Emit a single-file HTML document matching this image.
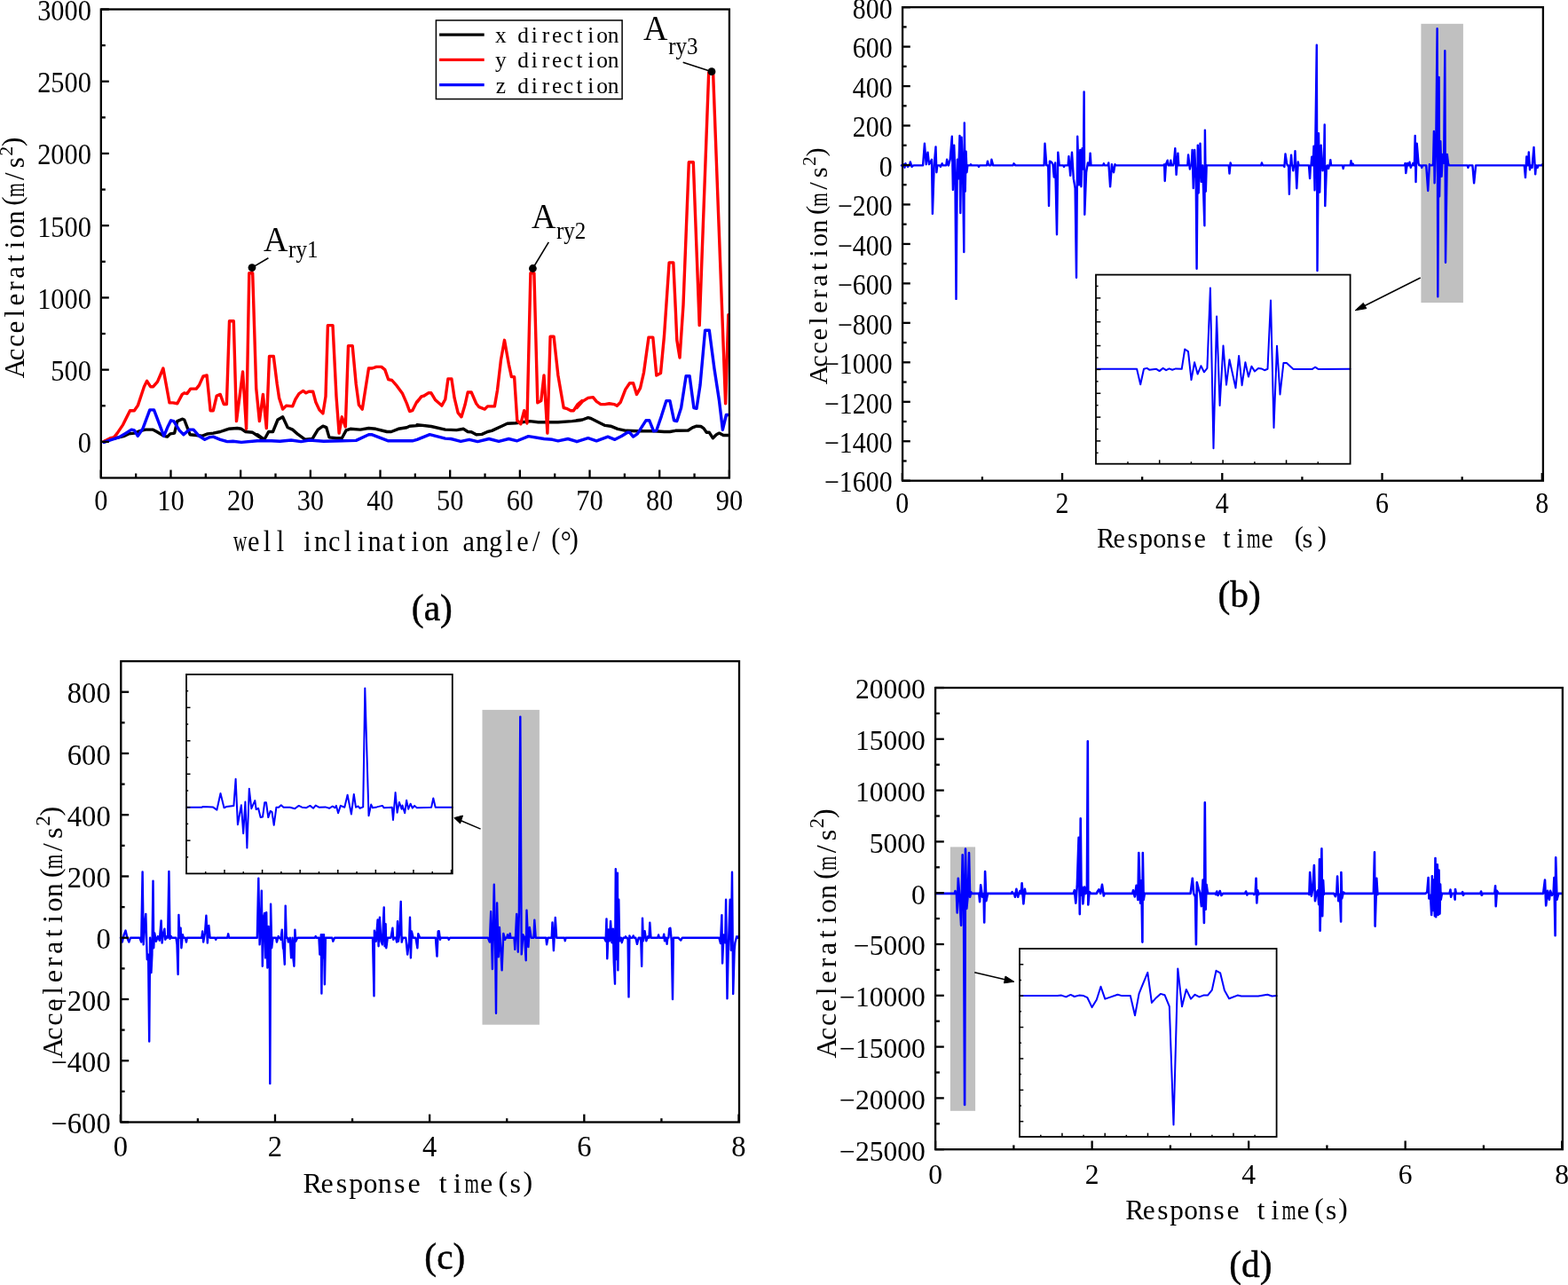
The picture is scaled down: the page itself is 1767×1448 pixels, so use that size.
<!DOCTYPE html>
<html><head><meta charset="utf-8"><title>Acceleration response figure</title>
<style>html,body{margin:0;padding:0;background:#fff;}svg{display:block;}</style>
</head><body>
<svg width="1767" height="1448" viewBox="0 0 1767 1448">
<rect width="1767" height="1448" fill="#fff"/>
<polyline points="117.1,497.6 125.9,494.5 133.8,492.9 140.2,491.3 144.9,488.9 151.3,488.1 157.7,485.7 164.0,484.1 172.0,484.1 176.7,486.5 184.7,491.3 188.6,492.1 191.8,488.9 196.6,488.1 199.8,474.6 205.3,472.2 207.7,473.0 214.1,489.7 221.2,490.5 227.6,491.3 233.9,488.9 240.3,488.1 248.2,486.5 257.7,483.3 267.3,482.5 272.0,483.3 276.8,486.5 284.7,487.3 289.5,490.5 296.7,495.3 290.0,489.7 297.9,495.3 302.7,486.5 307.5,486.5 313.0,473.0 318.6,469.8 324.2,481.7 329.7,484.1 336.1,489.7 344.0,495.3 352.0,494.5 358.3,484.1 363.9,480.2 367.8,481.7 371.0,492.9 379.0,493.7 385.3,493.7 390.1,484.9 394.8,483.3 406.0,484.1 415.5,482.5 423.4,483.3 436.1,486.5 440.9,486.5 448.9,483.3 458.4,481.7 461.6,480.2 472.7,479.4 470.0,478.6 485.9,480.5 501.8,484.1 514.5,484.6 522.4,483.3 527.2,486.5 531.2,486.8 536.7,489.7 543.1,489.4 549.4,486.5 554.2,485.4 565.3,480.2 571.7,477.3 581.2,476.7 597.1,474.6 606.6,475.7 628.9,475.7 644.7,474.6 654.3,473.5 650.0,473.8 656.4,473.0 662.7,470.7 665.9,471.5 673.8,475.4 681.8,479.4 688.1,480.2 696.1,483.4 705.6,485.3 718.3,485.8 737.4,485.8 748.5,486.5 754.9,486.5 761.2,485.3 775.5,485.0 780.3,481.8 785.0,480.2 789.8,480.5 793.0,482.6 796.2,487.3 799.3,487.3 803.3,493.7 807.3,489.7 810.5,488.1 815.2,490.5 820.8,490.5" fill="none" stroke="#000" stroke-width="3.4" stroke-linejoin="round" stroke-linecap="round"/>
<polyline points="117.1,497.6 124.3,493.7 128.3,492.9 132.2,488.1 138.6,478.6 146.5,462.7 151.3,462.7 155.3,457.1 162.4,435.7 165.6,429.3 169.6,435.7 172.7,435.7 177.5,430.1 183.9,415.0 191.0,453.9 195.0,453.9 199.8,454.7 205.3,444.4 207.7,442.8 210.9,443.6 214.8,438.1 221.2,438.1 224.4,434.1 229.1,423.8 233.1,423.0 237.1,462.7 240.3,462.7 244.2,446.0 248.2,444.4 252.2,455.5 255.4,455.5 258.5,361.8 263.3,361.8 266.5,474.6 273.6,419.0 277.6,483.3 280.8,307.8 284.7,307.8 288.7,437.3 292.4,474.6 296.4,444.4 300.3,482.5 303.5,401.5 308.3,401.5 312.2,432.5 314.6,448.4 318.6,461.1 322.6,457.1 329.7,457.9 332.9,450.0 336.9,443.6 341.6,440.4 344.8,442.8 348.0,441.2 352.7,441.2 355.9,453.2 359.9,461.9 363.9,465.9 367.0,446.8 369.4,366.6 375.0,366.6 379.0,446.8 382.1,488.1 385.3,469.8 389.3,481.0 392.5,389.6 397.2,389.6 401.2,432.5 404.4,456.3 408.3,461.1 415.5,415.0 419.5,415.0 424.2,413.4 429.8,413.4 433.8,416.6 437.7,427.7 441.7,428.5 447.3,434.9 453.6,443.6 458.4,454.7 461.6,463.5 464.7,462.7 469.5,453.2 475.1,446.8 470.0,453.2 474.8,446.8 477.9,446.0 482.7,442.8 485.9,442.8 490.7,450.8 497.8,457.1 501.8,450.0 504.9,426.9 508.9,426.9 512.1,448.4 516.1,465.1 520.0,469.8 524.0,456.3 527.2,442.0 531.2,442.0 536.7,454.7 539.9,458.7 546.3,461.1 549.4,457.9 557.4,457.9 560.5,439.7 564.5,405.5 568.5,383.3 573.3,410.3 576.4,424.6 579.6,424.6 582.8,473.8 586.8,477.8 590.7,462.7 593.9,477.0 597.9,307.8 601.9,307.8 605.8,453.9 609.8,451.6 613.0,423.0 616.9,488.1 620.1,379.3 624.1,379.3 628.9,423.0 635.2,459.5 638.4,460.3 643.2,462.7 646.3,462.7 651.1,455.5 655.9,451.6 650.0,459.5 656.4,452.4 662.7,448.4 668.3,447.6 672.2,452.4 677.0,455.6 681.8,455.6 686.5,454.8 692.1,455.6 695.3,457.2 699.3,453.2 704.8,438.9 709.6,431.7 713.6,431.7 717.5,444.4 721.5,437.3 725.5,419.8 731.0,380.1 735.8,380.1 739.8,423.0 744.5,420.6 748.5,378.5 754.1,295.9 758.8,295.9 761.2,346.7 762.8,383.3 766.0,403.1 770.0,343.6 776.3,182.7 781.3,182.7 788.2,366.6 798.7,81.6 803.6,81.6 817.6,454.8 820.8,354.7" fill="none" stroke="#f00" stroke-width="3.4" stroke-linejoin="round" stroke-linecap="round"/>
<polyline points="117.1,498.4 125.9,495.3 133.8,492.9 141.8,488.1 148.1,484.1 151.3,484.9 155.3,491.3 160.8,483.3 168.8,461.9 173.5,461.9 184.7,491.3 189.4,480.2 192.6,473.8 195.8,474.6 202.1,484.9 206.9,489.7 213.3,484.1 218.0,484.1 224.4,491.3 230.7,495.3 235.5,492.9 240.3,492.1 248.2,495.3 256.1,497.6 262.5,497.3 272.0,498.4 290.0,496.8 305.9,496.8 315.4,497.3 328.1,496.0 339.2,497.6 348.8,496.0 364.7,497.3 385.3,496.8 401.2,496.4 415.5,489.7 418.7,489.7 437.7,496.8 464.7,496.8 470.0,495.3 484.3,489.7 501.8,494.1 508.1,494.5 519.2,497.3 528.8,495.3 538.3,497.6 551.0,494.5 562.1,497.3 573.3,494.5 582.8,496.8 595.5,491.6 613.0,494.5 622.5,495.3 628.9,496.8 640.0,494.5 649.5,497.3 650.0,497.7 662.7,493.7 672.2,496.9 685.0,492.1 692.9,495.3 700.8,491.3 707.2,487.3 709.6,487.3 713.6,492.1 718.3,488.9 727.9,473.8 731.8,473.8 736.6,485.8 739.8,485.0 745.3,469.1 750.9,451.6 754.9,451.6 759.6,473.8 762.8,474.6 767.6,459.5 773.1,423.8 777.1,423.8 781.9,459.5 785.0,460.3 789.0,434.1 794.6,372.2 799.3,372.2 804.9,415.0 810.5,451.6 814.4,484.2 818.4,467.5 820.8,467.5" fill="none" stroke="#00f" stroke-width="3.4" stroke-linejoin="round" stroke-linecap="round"/>
<rect x="113.80" y="10.50" width="708.10" height="528.00" fill="none" stroke="#000" stroke-width="2.3"/>
<line x1="113.80" y1="497.88" x2="122.80" y2="497.88" stroke="#000" stroke-width="2.3" stroke-linecap="butt"/>
<text transform="translate(102.90,499.28) scale(1,1.095)" x="0" y="10.03" font-size="30.4" text-anchor="end" font-family="'Liberation Serif', 'Noto Serif CJK SC', serif">0</text>
<line x1="113.80" y1="416.65" x2="122.80" y2="416.65" stroke="#000" stroke-width="2.3" stroke-linecap="butt"/>
<text transform="translate(102.90,418.05) scale(1,1.095)" x="0" y="10.03" font-size="30.4" text-anchor="end" font-family="'Liberation Serif', 'Noto Serif CJK SC', serif">500</text>
<line x1="113.80" y1="335.42" x2="122.80" y2="335.42" stroke="#000" stroke-width="2.3" stroke-linecap="butt"/>
<text transform="translate(102.90,336.82) scale(1,1.095)" x="0" y="10.03" font-size="30.4" text-anchor="end" font-family="'Liberation Serif', 'Noto Serif CJK SC', serif">1000</text>
<line x1="113.80" y1="254.19" x2="122.80" y2="254.19" stroke="#000" stroke-width="2.3" stroke-linecap="butt"/>
<text transform="translate(102.90,255.59) scale(1,1.095)" x="0" y="10.03" font-size="30.4" text-anchor="end" font-family="'Liberation Serif', 'Noto Serif CJK SC', serif">1500</text>
<line x1="113.80" y1="172.96" x2="122.80" y2="172.96" stroke="#000" stroke-width="2.3" stroke-linecap="butt"/>
<text transform="translate(102.90,174.36) scale(1,1.095)" x="0" y="10.03" font-size="30.4" text-anchor="end" font-family="'Liberation Serif', 'Noto Serif CJK SC', serif">2000</text>
<line x1="113.80" y1="91.73" x2="122.80" y2="91.73" stroke="#000" stroke-width="2.3" stroke-linecap="butt"/>
<text transform="translate(102.90,93.13) scale(1,1.095)" x="0" y="10.03" font-size="30.4" text-anchor="end" font-family="'Liberation Serif', 'Noto Serif CJK SC', serif">2500</text>
<line x1="113.80" y1="10.50" x2="122.80" y2="10.50" stroke="#000" stroke-width="2.3" stroke-linecap="butt"/>
<text transform="translate(102.90,11.90) scale(1,1.095)" x="0" y="10.03" font-size="30.4" text-anchor="end" font-family="'Liberation Serif', 'Noto Serif CJK SC', serif">3000</text>
<line x1="113.80" y1="457.27" x2="118.80" y2="457.27" stroke="#000" stroke-width="2.3" stroke-linecap="butt"/>
<line x1="113.80" y1="376.04" x2="118.80" y2="376.04" stroke="#000" stroke-width="2.3" stroke-linecap="butt"/>
<line x1="113.80" y1="294.81" x2="118.80" y2="294.81" stroke="#000" stroke-width="2.3" stroke-linecap="butt"/>
<line x1="113.80" y1="213.58" x2="118.80" y2="213.58" stroke="#000" stroke-width="2.3" stroke-linecap="butt"/>
<line x1="113.80" y1="132.35" x2="118.80" y2="132.35" stroke="#000" stroke-width="2.3" stroke-linecap="butt"/>
<line x1="113.80" y1="51.12" x2="118.80" y2="51.12" stroke="#000" stroke-width="2.3" stroke-linecap="butt"/>
<line x1="113.80" y1="538.50" x2="113.80" y2="529.50" stroke="#000" stroke-width="2.3" stroke-linecap="butt"/>
<text transform="translate(113.80,564.00) scale(1,1.095)" x="0" y="10.03" font-size="30.4" text-anchor="middle" font-family="'Liberation Serif', 'Noto Serif CJK SC', serif">0</text>
<line x1="192.48" y1="538.50" x2="192.48" y2="529.50" stroke="#000" stroke-width="2.3" stroke-linecap="butt"/>
<text transform="translate(192.48,564.00) scale(1,1.095)" x="0" y="10.03" font-size="30.4" text-anchor="middle" font-family="'Liberation Serif', 'Noto Serif CJK SC', serif">10</text>
<line x1="271.16" y1="538.50" x2="271.16" y2="529.50" stroke="#000" stroke-width="2.3" stroke-linecap="butt"/>
<text transform="translate(271.16,564.00) scale(1,1.095)" x="0" y="10.03" font-size="30.4" text-anchor="middle" font-family="'Liberation Serif', 'Noto Serif CJK SC', serif">20</text>
<line x1="349.83" y1="538.50" x2="349.83" y2="529.50" stroke="#000" stroke-width="2.3" stroke-linecap="butt"/>
<text transform="translate(349.83,564.00) scale(1,1.095)" x="0" y="10.03" font-size="30.4" text-anchor="middle" font-family="'Liberation Serif', 'Noto Serif CJK SC', serif">30</text>
<line x1="428.51" y1="538.50" x2="428.51" y2="529.50" stroke="#000" stroke-width="2.3" stroke-linecap="butt"/>
<text transform="translate(428.51,564.00) scale(1,1.095)" x="0" y="10.03" font-size="30.4" text-anchor="middle" font-family="'Liberation Serif', 'Noto Serif CJK SC', serif">40</text>
<line x1="507.19" y1="538.50" x2="507.19" y2="529.50" stroke="#000" stroke-width="2.3" stroke-linecap="butt"/>
<text transform="translate(507.19,564.00) scale(1,1.095)" x="0" y="10.03" font-size="30.4" text-anchor="middle" font-family="'Liberation Serif', 'Noto Serif CJK SC', serif">50</text>
<line x1="585.87" y1="538.50" x2="585.87" y2="529.50" stroke="#000" stroke-width="2.3" stroke-linecap="butt"/>
<text transform="translate(585.87,564.00) scale(1,1.095)" x="0" y="10.03" font-size="30.4" text-anchor="middle" font-family="'Liberation Serif', 'Noto Serif CJK SC', serif">60</text>
<line x1="664.54" y1="538.50" x2="664.54" y2="529.50" stroke="#000" stroke-width="2.3" stroke-linecap="butt"/>
<text transform="translate(664.54,564.00) scale(1,1.095)" x="0" y="10.03" font-size="30.4" text-anchor="middle" font-family="'Liberation Serif', 'Noto Serif CJK SC', serif">70</text>
<line x1="743.22" y1="538.50" x2="743.22" y2="529.50" stroke="#000" stroke-width="2.3" stroke-linecap="butt"/>
<text transform="translate(743.22,564.00) scale(1,1.095)" x="0" y="10.03" font-size="30.4" text-anchor="middle" font-family="'Liberation Serif', 'Noto Serif CJK SC', serif">80</text>
<line x1="821.90" y1="538.50" x2="821.90" y2="529.50" stroke="#000" stroke-width="2.3" stroke-linecap="butt"/>
<text transform="translate(821.90,564.00) scale(1,1.095)" x="0" y="10.03" font-size="30.4" text-anchor="middle" font-family="'Liberation Serif', 'Noto Serif CJK SC', serif">90</text>
<line x1="153.14" y1="538.50" x2="153.14" y2="533.50" stroke="#000" stroke-width="2.3" stroke-linecap="butt"/>
<line x1="231.82" y1="538.50" x2="231.82" y2="533.50" stroke="#000" stroke-width="2.3" stroke-linecap="butt"/>
<line x1="310.49" y1="538.50" x2="310.49" y2="533.50" stroke="#000" stroke-width="2.3" stroke-linecap="butt"/>
<line x1="389.17" y1="538.50" x2="389.17" y2="533.50" stroke="#000" stroke-width="2.3" stroke-linecap="butt"/>
<line x1="467.85" y1="538.50" x2="467.85" y2="533.50" stroke="#000" stroke-width="2.3" stroke-linecap="butt"/>
<line x1="546.53" y1="538.50" x2="546.53" y2="533.50" stroke="#000" stroke-width="2.3" stroke-linecap="butt"/>
<line x1="625.21" y1="538.50" x2="625.21" y2="533.50" stroke="#000" stroke-width="2.3" stroke-linecap="butt"/>
<line x1="703.88" y1="538.50" x2="703.88" y2="533.50" stroke="#000" stroke-width="2.3" stroke-linecap="butt"/>
<line x1="782.56" y1="538.50" x2="782.56" y2="533.50" stroke="#000" stroke-width="2.3" stroke-linecap="butt"/>
<text transform="translate(0,620.90) scale(1,1.085)" x="285.76 300.92 316.08 346.40 361.56 376.72 391.88 407.04 422.20 437.36 452.52 467.68 482.84 498.00 528.32 543.48 558.64 573.80 588.96 604.12 637.78" y="0" font-size="30.30" text-anchor="middle" font-family="'Liberation Serif', 'Noto Serif CJK SC', serif">ellinclinationangle/°</text>
<text transform="translate(0,618.40) scale(1,1.085)" x="626.25 646.87" y="0" font-size="30.30" text-anchor="middle" font-family="'Liberation Serif', 'Noto Serif CJK SC', serif">()</text>
<text transform="translate(270.60,620.90) scale(0.7,1.085)" x="0" y="0" font-size="30.30" text-anchor="middle" font-family="'Liberation Serif', 'Noto Serif CJK SC', serif">w</text>
<text transform="rotate(-90) translate(0,27.00) scale(1,1.0)" x="-414.97 -399.52 -384.07 -368.62 -353.17 -337.72 -322.27 -306.82 -291.38 -275.92 -260.47 -245.02 -198.67 -183.22" y="0" font-size="30.90" text-anchor="middle" font-family="'Liberation Serif', 'Noto Serif CJK SC', serif">Acceleration/s</text>
<text transform="rotate(-90) translate(0,24.22) scale(1,1.0)" x="-226.48" y="0" font-size="30.90" text-anchor="middle" font-family="'Liberation Serif', 'Noto Serif CJK SC', serif">(</text>
<text transform="rotate(-90) translate(-214.12,27.00) scale(0.66,1.0)" x="0" y="0" font-size="30.90" text-anchor="middle" font-family="'Liberation Serif', 'Noto Serif CJK SC', serif">m</text>
<text transform="rotate(-90) translate(0,13.71) scale(1,1.0)" x="-170.25" y="0" font-size="21.94" text-anchor="middle" font-family="'Liberation Serif', 'Noto Serif CJK SC', serif">2</text>
<text transform="rotate(-90) translate(0,24.22) scale(1,1.0)" x="-159.74" y="0" font-size="30.90" text-anchor="middle" font-family="'Liberation Serif', 'Noto Serif CJK SC', serif">)</text>
<rect x="491.4" y="22.9" width="209.7" height="88.7" fill="#fff" stroke="#000" stroke-width="1.5"/>
<line x1="495.10" y1="39.10" x2="545.70" y2="39.10" stroke="#000" stroke-width="3.3" stroke-linecap="butt"/>
<text transform="translate(0,48.10) scale(1,1.0)" x="564.30 589.68 602.37 615.06 627.75 640.44 653.13 665.82 678.51 691.20" y="0" font-size="25.40" text-anchor="middle" font-family="'Liberation Serif', 'Noto Serif CJK SC', serif">xdirection</text>
<line x1="495.10" y1="67.40" x2="545.70" y2="67.40" stroke="#f00" stroke-width="3.3" stroke-linecap="butt"/>
<text transform="translate(0,76.40) scale(1,1.0)" x="564.30 589.68 602.37 615.06 627.75 640.44 653.13 665.82 678.51 691.20" y="0" font-size="25.40" text-anchor="middle" font-family="'Liberation Serif', 'Noto Serif CJK SC', serif">ydirection</text>
<line x1="495.10" y1="95.60" x2="545.70" y2="95.60" stroke="#00f" stroke-width="3.3" stroke-linecap="butt"/>
<text transform="translate(0,104.60) scale(1,1.0)" x="564.30 589.68 602.37 615.06 627.75 640.44 653.13 665.82 678.51 691.20" y="0" font-size="25.40" text-anchor="middle" font-family="'Liberation Serif', 'Noto Serif CJK SC', serif">zdirection</text>
<line x1="284.00" y1="301.60" x2="302.40" y2="290.70" stroke="#000" stroke-width="1.6" stroke-linecap="butt"/>
<circle cx="284.0" cy="301.6" r="4.4" fill="#000"/>
<line x1="600.40" y1="302.50" x2="618.30" y2="272.80" stroke="#000" stroke-width="1.6" stroke-linecap="butt"/>
<circle cx="600.4" cy="302.5" r="4.4" fill="#000"/>
<line x1="802.00" y1="80.70" x2="769.70" y2="70.30" stroke="#000" stroke-width="1.6" stroke-linecap="butt"/>
<circle cx="802.0" cy="80.7" r="4.4" fill="#000"/>
<text transform="translate(297.10,283.00) scale(1,1.08)" x="0" y="0" font-size="38" text-anchor="start" font-family="'Liberation Serif', 'Noto Serif CJK SC', serif">A</text>
<text transform="translate(325.10,289.80) scale(1,1.06)" x="0" y="0" font-size="25" text-anchor="start" font-family="'Liberation Serif', 'Noto Serif CJK SC', serif">ry1</text>
<text transform="translate(599.00,256.60) scale(1,1.08)" x="0" y="0" font-size="38" text-anchor="start" font-family="'Liberation Serif', 'Noto Serif CJK SC', serif">A</text>
<text transform="translate(627.00,268.70) scale(1,1.06)" x="0" y="0" font-size="25" text-anchor="start" font-family="'Liberation Serif', 'Noto Serif CJK SC', serif">ry2</text>
<text transform="translate(725.00,45.00) scale(1,1.08)" x="0" y="0" font-size="38" text-anchor="start" font-family="'Liberation Serif', 'Noto Serif CJK SC', serif">A</text>
<text transform="translate(753.20,60.70) scale(1,1.06)" x="0" y="0" font-size="25" text-anchor="start" font-family="'Liberation Serif', 'Noto Serif CJK SC', serif">ry3</text>
<text x="486.90" y="699.00" font-size="41.5" text-anchor="middle" font-family="'Liberation Serif', 'Noto Serif CJK SC', serif" stroke="#000" stroke-width="0.45">(a)</text>
<rect x="1601.4" y="26.8" width="47.5" height="314.3" fill="#c0c0c0"/>
<polyline points="1015.9,186.4 1017.8,186.4 1018.6,185.2 1019.5,188.8 1020.4,184.3 1021.2,186.4 1022.3,186.4 1023.1,187.9 1023.9,186.4 1025.0,186.4 1025.8,182.5 1027.6,187.9 1029.4,186.4 1040.1,186.4 1041.9,161.8 1043.7,185.2 1045.5,171.7 1047.0,185.2 1048.2,183.4 1050.0,179.8 1050.9,240.9 1052.7,186.4 1054.5,165.4 1055.4,194.2 1056.3,186.4 1059.1,186.4 1059.9,187.9 1061.7,184.3 1062.5,186.4 1066.3,186.4 1067.1,179.8 1068.9,186.4 1070.7,179.8 1072.8,153.8 1073.9,213.9 1075.2,163.6 1076.4,197.8 1077.5,336.9 1078.8,179.8 1080.0,201.4 1081.5,152.9 1082.3,240.0 1083.6,154.7 1085.0,190.6 1086.3,284.0 1086.8,138.5 1087.7,215.7 1088.6,170.8 1089.5,194.2 1090.4,186.4 1093.2,186.4 1094.0,185.2 1094.8,186.4 1102.2,186.4 1103.0,187.9 1103.8,186.4 1112.1,186.4 1112.9,181.6 1113.8,185.2 1114.6,186.4 1116.6,186.4 1117.4,179.8 1119.2,186.4 1121.0,186.4 1141.7,186.4 1142.5,184.3 1144.3,186.4 1176.6,186.4 1177.5,161.8 1179.3,186.4 1181.2,186.4 1182.0,231.9 1182.9,181.6 1184.7,182.5 1186.5,185.2 1187.8,199.6 1189.2,183.4 1191.0,264.2 1192.3,171.7 1193.7,186.4 1198.2,186.4 1199.0,187.9 1199.8,186.4 1203.6,186.4 1204.4,176.2 1206.2,197.8 1208.0,171.7 1209.8,201.4 1211.6,212.1 1213.0,312.7 1214.2,153.8 1216.0,208.5 1217.3,169.0 1218.4,210.3 1219.6,167.2 1220.9,190.6 1221.6,103.5 1222.3,241.8 1224.1,194.2 1225.9,183.4 1226.7,186.4 1227.8,186.4 1228.6,172.6 1229.5,186.4 1243.1,186.4 1243.9,184.3 1244.7,186.4 1248.5,186.4 1249.3,183.4 1251.1,210.3 1252.9,185.2 1255.0,194.2 1256.5,185.2 1257.3,186.4 1311.3,186.4 1312.1,185.2 1312.7,204.0 1313.9,185.2 1315.7,180.7 1316.5,186.4 1318.5,186.4 1319.3,180.7 1320.1,186.4 1322.1,186.4 1322.9,183.4 1324.3,167.2 1325.6,196.9 1327.4,172.6 1328.3,186.4 1338.3,186.4 1339.1,174.4 1340.9,190.6 1341.7,186.4 1342.8,186.4 1343.6,169.0 1344.8,212.1 1346.2,169.0 1347.7,201.4 1348.6,302.8 1349.8,163.6 1350.7,217.5 1352.5,161.8 1353.8,204.9 1355.2,186.4 1357.4,254.3 1357.9,146.6 1358.8,215.7 1359.7,186.4 1375.0,186.4 1383.3,186.4 1384.7,186.4 1385.5,195.6 1386.6,183.5 1387.7,186.4 1421.1,186.4 1421.9,183.5 1423.1,186.4 1446.6,186.4 1447.4,187.9 1448.5,173.5 1450.0,183.5 1450.8,186.4 1452.1,186.4 1452.9,218.8 1453.7,186.4 1454.3,186.4 1455.1,174.6 1455.9,186.4 1456.5,186.4 1457.3,192.3 1458.1,186.4 1458.7,186.4 1459.5,170.2 1461.3,212.2 1462.8,182.4 1463.6,186.4 1465.0,186.4 1475.0,186.4 1476.1,201.1 1476.9,186.4 1477.5,186.4 1478.3,176.8 1479.1,186.4 1479.7,186.4 1480.5,164.7 1481.6,214.4 1483.2,97.3 1483.8,50.8 1484.5,305.0 1486.0,150.3 1487.2,216.6 1488.7,163.6 1490.5,192.3 1491.3,186.4 1491.9,186.4 1492.7,140.4 1493.3,232.1 1494.9,187.9 1495.7,186.4 1496.3,186.4 1497.1,190.1 1497.9,186.4 1498.5,186.4 1499.3,180.2 1500.1,186.4 1501.5,186.4 1512.9,186.4 1513.7,190.1 1514.5,186.4 1515.9,186.4 1521.7,186.4 1522.5,181.3 1523.3,186.4 1523.9,186.4 1524.7,184.6 1525.5,186.4 1538.0,186.4 1582.8,186.4 1583.6,183.9 1584.3,195.1 1586.0,183.9 1586.8,186.4 1587.7,186.4 1588.5,182.7 1589.8,188.9 1590.6,186.4 1591.5,186.4 1592.3,183.9 1593.1,186.4 1593.9,186.4 1594.7,152.9 1595.5,205.1 1596.7,161.6 1598.5,183.9 1599.3,186.4 1601.4,186.4 1602.2,188.9 1603.0,186.4 1607.2,186.4 1609.2,215.0 1610.9,185.2 1611.7,186.4 1614.3,186.4 1615.1,183.9 1615.9,147.9 1616.6,206.3 1618.4,149.1 1619.6,32.3 1620.3,334.3 1621.6,87.0 1622.1,221.2 1623.3,159.1 1624.6,198.9 1625.8,174.0 1627.1,183.9 1628.3,57.2 1629.0,295.8 1630.8,174.0 1632.0,183.9 1632.8,186.4 1634.5,186.4 1653.6,186.4 1654.4,188.9 1655.2,186.4 1659.4,186.4 1661.1,206.3 1663.1,186.4 1716.5,186.4 1717.8,186.4 1719.0,200.1 1720.3,176.5 1721.1,186.4 1722.0,186.4 1722.8,171.5 1724.0,191.4 1724.8,186.4 1725.7,186.4 1726.5,188.9 1728.5,166.0 1730.2,196.4 1731.0,186.4 1731.9,186.4 1732.7,188.9 1733.5,186.4 1735.2,186.4 1737.4,186.4 1738.2,185.2" fill="none" stroke="#00f" stroke-width="2.4" stroke-linejoin="round" stroke-linecap="round"/>
<rect x="1017.10" y="8.15" width="721.80" height="533.55" fill="none" stroke="#000" stroke-width="2.3"/>
<line x1="1017.10" y1="541.70" x2="1025.80" y2="541.70" stroke="#000" stroke-width="2.3" stroke-linecap="butt"/>
<text transform="translate(1005.60,543.55) scale(1,1.1)" x="0" y="9.87" font-size="29.9" text-anchor="end" font-family="'Liberation Serif', 'Noto Serif CJK SC', serif">−1600</text>
<line x1="1017.10" y1="497.24" x2="1025.80" y2="497.24" stroke="#000" stroke-width="2.3" stroke-linecap="butt"/>
<text transform="translate(1005.60,499.09) scale(1,1.1)" x="0" y="9.87" font-size="29.9" text-anchor="end" font-family="'Liberation Serif', 'Noto Serif CJK SC', serif">−1400</text>
<line x1="1017.10" y1="452.78" x2="1025.80" y2="452.78" stroke="#000" stroke-width="2.3" stroke-linecap="butt"/>
<text transform="translate(1005.60,454.63) scale(1,1.1)" x="0" y="9.87" font-size="29.9" text-anchor="end" font-family="'Liberation Serif', 'Noto Serif CJK SC', serif">−1200</text>
<line x1="1017.10" y1="408.31" x2="1025.80" y2="408.31" stroke="#000" stroke-width="2.3" stroke-linecap="butt"/>
<text transform="translate(1005.60,410.16) scale(1,1.1)" x="0" y="9.87" font-size="29.9" text-anchor="end" font-family="'Liberation Serif', 'Noto Serif CJK SC', serif">−1000</text>
<line x1="1017.10" y1="363.85" x2="1025.80" y2="363.85" stroke="#000" stroke-width="2.3" stroke-linecap="butt"/>
<text transform="translate(1005.60,365.70) scale(1,1.1)" x="0" y="9.87" font-size="29.9" text-anchor="end" font-family="'Liberation Serif', 'Noto Serif CJK SC', serif">−800</text>
<line x1="1017.10" y1="319.39" x2="1025.80" y2="319.39" stroke="#000" stroke-width="2.3" stroke-linecap="butt"/>
<text transform="translate(1005.60,321.24) scale(1,1.1)" x="0" y="9.87" font-size="29.9" text-anchor="end" font-family="'Liberation Serif', 'Noto Serif CJK SC', serif">−600</text>
<line x1="1017.10" y1="274.93" x2="1025.80" y2="274.93" stroke="#000" stroke-width="2.3" stroke-linecap="butt"/>
<text transform="translate(1005.60,276.78) scale(1,1.1)" x="0" y="9.87" font-size="29.9" text-anchor="end" font-family="'Liberation Serif', 'Noto Serif CJK SC', serif">−400</text>
<line x1="1017.10" y1="230.46" x2="1025.80" y2="230.46" stroke="#000" stroke-width="2.3" stroke-linecap="butt"/>
<text transform="translate(1005.60,232.31) scale(1,1.1)" x="0" y="9.87" font-size="29.9" text-anchor="end" font-family="'Liberation Serif', 'Noto Serif CJK SC', serif">−200</text>
<line x1="1017.10" y1="186.00" x2="1025.80" y2="186.00" stroke="#000" stroke-width="2.3" stroke-linecap="butt"/>
<text transform="translate(1005.60,187.85) scale(1,1.1)" x="0" y="9.87" font-size="29.9" text-anchor="end" font-family="'Liberation Serif', 'Noto Serif CJK SC', serif">0</text>
<line x1="1017.10" y1="141.54" x2="1025.80" y2="141.54" stroke="#000" stroke-width="2.3" stroke-linecap="butt"/>
<text transform="translate(1005.60,143.39) scale(1,1.1)" x="0" y="9.87" font-size="29.9" text-anchor="end" font-family="'Liberation Serif', 'Noto Serif CJK SC', serif">200</text>
<line x1="1017.10" y1="97.08" x2="1025.80" y2="97.08" stroke="#000" stroke-width="2.3" stroke-linecap="butt"/>
<text transform="translate(1005.60,98.93) scale(1,1.1)" x="0" y="9.87" font-size="29.9" text-anchor="end" font-family="'Liberation Serif', 'Noto Serif CJK SC', serif">400</text>
<line x1="1017.10" y1="52.61" x2="1025.80" y2="52.61" stroke="#000" stroke-width="2.3" stroke-linecap="butt"/>
<text transform="translate(1005.60,54.46) scale(1,1.1)" x="0" y="9.87" font-size="29.9" text-anchor="end" font-family="'Liberation Serif', 'Noto Serif CJK SC', serif">600</text>
<line x1="1017.10" y1="8.15" x2="1025.80" y2="8.15" stroke="#000" stroke-width="2.3" stroke-linecap="butt"/>
<text transform="translate(1005.60,10.00) scale(1,1.1)" x="0" y="9.87" font-size="29.9" text-anchor="end" font-family="'Liberation Serif', 'Noto Serif CJK SC', serif">800</text>
<line x1="1017.10" y1="519.47" x2="1021.60" y2="519.47" stroke="#000" stroke-width="2.3" stroke-linecap="butt"/>
<line x1="1017.10" y1="475.01" x2="1021.60" y2="475.01" stroke="#000" stroke-width="2.3" stroke-linecap="butt"/>
<line x1="1017.10" y1="430.54" x2="1021.60" y2="430.54" stroke="#000" stroke-width="2.3" stroke-linecap="butt"/>
<line x1="1017.10" y1="386.08" x2="1021.60" y2="386.08" stroke="#000" stroke-width="2.3" stroke-linecap="butt"/>
<line x1="1017.10" y1="341.62" x2="1021.60" y2="341.62" stroke="#000" stroke-width="2.3" stroke-linecap="butt"/>
<line x1="1017.10" y1="297.16" x2="1021.60" y2="297.16" stroke="#000" stroke-width="2.3" stroke-linecap="butt"/>
<line x1="1017.10" y1="252.69" x2="1021.60" y2="252.69" stroke="#000" stroke-width="2.3" stroke-linecap="butt"/>
<line x1="1017.10" y1="208.23" x2="1021.60" y2="208.23" stroke="#000" stroke-width="2.3" stroke-linecap="butt"/>
<line x1="1017.10" y1="163.77" x2="1021.60" y2="163.77" stroke="#000" stroke-width="2.3" stroke-linecap="butt"/>
<line x1="1017.10" y1="119.31" x2="1021.60" y2="119.31" stroke="#000" stroke-width="2.3" stroke-linecap="butt"/>
<line x1="1017.10" y1="74.84" x2="1021.60" y2="74.84" stroke="#000" stroke-width="2.3" stroke-linecap="butt"/>
<line x1="1017.10" y1="30.38" x2="1021.60" y2="30.38" stroke="#000" stroke-width="2.3" stroke-linecap="butt"/>
<line x1="1016.80" y1="541.70" x2="1016.80" y2="533.00" stroke="#000" stroke-width="2.3" stroke-linecap="butt"/>
<text transform="translate(1016.80,567.40) scale(1,1.1)" x="0" y="9.87" font-size="29.9" text-anchor="middle" font-family="'Liberation Serif', 'Noto Serif CJK SC', serif">0</text>
<line x1="1197.05" y1="541.70" x2="1197.05" y2="533.00" stroke="#000" stroke-width="2.3" stroke-linecap="butt"/>
<text transform="translate(1197.05,567.40) scale(1,1.1)" x="0" y="9.87" font-size="29.9" text-anchor="middle" font-family="'Liberation Serif', 'Noto Serif CJK SC', serif">2</text>
<line x1="1377.30" y1="541.70" x2="1377.30" y2="533.00" stroke="#000" stroke-width="2.3" stroke-linecap="butt"/>
<text transform="translate(1377.30,567.40) scale(1,1.1)" x="0" y="9.87" font-size="29.9" text-anchor="middle" font-family="'Liberation Serif', 'Noto Serif CJK SC', serif">4</text>
<line x1="1557.55" y1="541.70" x2="1557.55" y2="533.00" stroke="#000" stroke-width="2.3" stroke-linecap="butt"/>
<text transform="translate(1557.55,567.40) scale(1,1.1)" x="0" y="9.87" font-size="29.9" text-anchor="middle" font-family="'Liberation Serif', 'Noto Serif CJK SC', serif">6</text>
<line x1="1737.80" y1="541.70" x2="1737.80" y2="533.00" stroke="#000" stroke-width="2.3" stroke-linecap="butt"/>
<text transform="translate(1737.80,567.40) scale(1,1.1)" x="0" y="9.87" font-size="29.9" text-anchor="middle" font-family="'Liberation Serif', 'Noto Serif CJK SC', serif">8</text>
<line x1="1106.92" y1="541.70" x2="1106.92" y2="537.20" stroke="#000" stroke-width="2.3" stroke-linecap="butt"/>
<line x1="1287.17" y1="541.70" x2="1287.17" y2="537.20" stroke="#000" stroke-width="2.3" stroke-linecap="butt"/>
<line x1="1467.42" y1="541.70" x2="1467.42" y2="537.20" stroke="#000" stroke-width="2.3" stroke-linecap="butt"/>
<line x1="1647.67" y1="541.70" x2="1647.67" y2="537.20" stroke="#000" stroke-width="2.3" stroke-linecap="butt"/>
<text transform="translate(0,617.40) scale(1,1.06)" x="1246.20 1261.35 1276.50 1291.65 1306.80 1321.95 1337.10 1352.25 1382.55 1397.70 1428.00 1473.45" y="0" font-size="30.30" text-anchor="middle" font-family="'Liberation Serif', 'Noto Serif CJK SC', serif">Responseties</text>
<text transform="translate(0,614.90) scale(1,1.06)" x="1463.75 1489.81" y="0" font-size="30.30" text-anchor="middle" font-family="'Liberation Serif', 'Noto Serif CJK SC', serif">()</text>
<text transform="translate(1412.85,617.40) scale(0.66,1.06)" x="0" y="0" font-size="30.30" text-anchor="middle" font-family="'Liberation Serif', 'Noto Serif CJK SC', serif">m</text>
<text transform="rotate(-90) translate(0,932.00) scale(1,1.0)" x="-422.30 -407.11 -391.92 -376.73 -361.54 -346.35 -331.16 -315.97 -300.78 -285.59 -270.40 -255.21 -209.64 -194.45" y="0" font-size="30.40" text-anchor="middle" font-family="'Liberation Serif', 'Noto Serif CJK SC', serif">Acceleration/s</text>
<text transform="rotate(-90) translate(0,929.26) scale(1,1.0)" x="-236.99" y="0" font-size="30.40" text-anchor="middle" font-family="'Liberation Serif', 'Noto Serif CJK SC', serif">(</text>
<text transform="rotate(-90) translate(-224.83,932.00) scale(0.66,1.0)" x="0" y="0" font-size="30.40" text-anchor="middle" font-family="'Liberation Serif', 'Noto Serif CJK SC', serif">m</text>
<text transform="rotate(-90) translate(0,918.93) scale(1,1.0)" x="-181.70" y="0" font-size="21.58" text-anchor="middle" font-family="'Liberation Serif', 'Noto Serif CJK SC', serif">2</text>
<text transform="rotate(-90) translate(0,929.26) scale(1,1.0)" x="-171.37" y="0" font-size="30.40" text-anchor="middle" font-family="'Liberation Serif', 'Noto Serif CJK SC', serif">)</text>
<rect x="1235.0" y="309.6" width="286.6" height="213.1" fill="#fff"/>
<polyline points="1235.5,415.8 1281.1,415.8 1285.2,433.3 1289.0,415.8 1292.5,414.9 1295.2,416.7 1303.1,415.8 1306.6,418.1 1310.6,414.9 1314.1,417.2 1317.6,415.4 1321.1,416.7 1325.0,415.4 1331.7,415.8 1335.2,393.5 1339.0,396.1 1342.5,428.1 1346.1,408.2 1349.6,421.6 1353.4,412.3 1356.9,419.3 1360.4,414.9 1363.9,324.6 1367.5,505.3 1371.1,356.5 1374.6,457.0 1378.5,389.5 1382.0,433.7 1385.5,405.3 1392.5,437.2 1396.1,400.9 1399.6,434.2 1403.4,408.2 1406.9,424.6 1410.4,412.8 1413.9,418.4 1418.0,414.9 1421.5,415.4 1425.0,417.2 1428.5,415.8 1432.0,338.6 1435.5,481.9 1439.0,389.8 1442.5,444.4 1446.4,409.1 1449.9,409.1 1457.5,416.1 1478.5,416.1 1482.0,413.7 1485.9,416.1 1521.5,415.8" fill="none" stroke="#00f" stroke-width="2" stroke-linejoin="round" stroke-linecap="round"/>
<rect x="1235.00" y="309.60" width="286.60" height="213.10" fill="none" stroke="#000" stroke-width="1.8"/>
<line x1="1235.00" y1="322.46" x2="1237.60" y2="322.46" stroke="#000" stroke-width="1.5" stroke-linecap="butt"/>
<line x1="1235.00" y1="335.88" x2="1240.30" y2="335.88" stroke="#000" stroke-width="1.5" stroke-linecap="butt"/>
<line x1="1235.00" y1="349.30" x2="1237.60" y2="349.30" stroke="#000" stroke-width="1.5" stroke-linecap="butt"/>
<line x1="1235.00" y1="362.72" x2="1240.30" y2="362.72" stroke="#000" stroke-width="1.5" stroke-linecap="butt"/>
<line x1="1235.00" y1="376.14" x2="1237.60" y2="376.14" stroke="#000" stroke-width="1.5" stroke-linecap="butt"/>
<line x1="1235.00" y1="389.56" x2="1240.30" y2="389.56" stroke="#000" stroke-width="1.5" stroke-linecap="butt"/>
<line x1="1235.00" y1="402.98" x2="1237.60" y2="402.98" stroke="#000" stroke-width="1.5" stroke-linecap="butt"/>
<line x1="1235.00" y1="416.40" x2="1240.30" y2="416.40" stroke="#000" stroke-width="1.5" stroke-linecap="butt"/>
<line x1="1235.00" y1="429.82" x2="1237.60" y2="429.82" stroke="#000" stroke-width="1.5" stroke-linecap="butt"/>
<line x1="1235.00" y1="443.25" x2="1240.30" y2="443.25" stroke="#000" stroke-width="1.5" stroke-linecap="butt"/>
<line x1="1235.00" y1="456.67" x2="1237.60" y2="456.67" stroke="#000" stroke-width="1.5" stroke-linecap="butt"/>
<line x1="1235.00" y1="470.09" x2="1240.30" y2="470.09" stroke="#000" stroke-width="1.5" stroke-linecap="butt"/>
<line x1="1235.00" y1="483.51" x2="1237.60" y2="483.51" stroke="#000" stroke-width="1.5" stroke-linecap="butt"/>
<line x1="1235.00" y1="496.93" x2="1240.30" y2="496.93" stroke="#000" stroke-width="1.5" stroke-linecap="butt"/>
<line x1="1235.00" y1="510.35" x2="1237.60" y2="510.35" stroke="#000" stroke-width="1.5" stroke-linecap="butt"/>
<line x1="1270.96" y1="522.70" x2="1270.96" y2="520.30" stroke="#000" stroke-width="1.5" stroke-linecap="butt"/>
<line x1="1306.68" y1="522.70" x2="1306.68" y2="518.30" stroke="#000" stroke-width="1.5" stroke-linecap="butt"/>
<line x1="1342.40" y1="522.70" x2="1342.40" y2="520.30" stroke="#000" stroke-width="1.5" stroke-linecap="butt"/>
<line x1="1378.12" y1="522.70" x2="1378.12" y2="518.30" stroke="#000" stroke-width="1.5" stroke-linecap="butt"/>
<line x1="1413.84" y1="522.70" x2="1413.84" y2="520.30" stroke="#000" stroke-width="1.5" stroke-linecap="butt"/>
<line x1="1449.56" y1="522.70" x2="1449.56" y2="518.30" stroke="#000" stroke-width="1.5" stroke-linecap="butt"/>
<line x1="1485.28" y1="522.70" x2="1485.28" y2="520.30" stroke="#000" stroke-width="1.5" stroke-linecap="butt"/>
<line x1="1600.70" y1="313.00" x2="1536.00" y2="345.50" stroke="#000" stroke-width="1.5" stroke-linecap="butt"/>
<polygon points="1527.2,349.8 1536.3,341.4 1539.9,347.6" fill="#000" stroke="#000" stroke-width="1" stroke-linejoin="round"/>
<text x="1396.60" y="684.00" font-size="41.5" text-anchor="middle" font-family="'Liberation Serif', 'Noto Serif CJK SC', serif" stroke="#000" stroke-width="0.45">(b)</text>
<rect x="543.5" y="799.9" width="64.4" height="354.8" fill="#c0c0c0"/>
<polyline points="135.9,1056.7 136.9,1056.7 137.8,1061.6 139.7,1053.2 141.5,1048.6 143.4,1056.7 145.3,1061.6 147.1,1056.7 157.4,1056.7 159.2,1061.6 160.6,982.4 161.7,1064.4 163.0,1042.1 164.3,1029.9 165.8,1081.2 167.1,1075.6 168.2,1173.5 169.1,1056.7 170.4,1096.1 171.4,1075.6 172.5,992.6 173.2,1068.2 174.2,1051.4 176.0,1060.7 177.9,1055.1 179.8,1059.8 181.6,1037.4 182.6,1062.6 183.9,1053.2 185.4,1046.7 186.3,1058.8 188.2,1055.1 189.1,1056.7 190.4,982.0 191.5,1057.9 192.8,1055.1 193.6,1056.7 198.4,1056.7 199.5,1064.4 200.6,1098.0 201.4,1030.9 202.5,1056.7 203.6,1045.8 204.4,1068.2 205.9,1053.2 206.7,1056.7 208.7,1056.7 210.0,1061.6 210.8,1056.7 213.3,1056.7 227.3,1056.7 228.2,1049.5 229.2,1061.6 231.0,1051.4 232.4,1031.8 233.8,1062.6 235.3,1043.0 236.6,1056.7 242.4,1056.7 243.2,1058.8 244.0,1056.7 256.2,1056.7 257.2,1052.3 258.1,1056.7 289.8,1056.7 291.3,989.8 292.6,1064.4 293.9,1042.1 294.8,1003.8 295.8,1088.7 296.9,1034.6 298.2,1029.0 299.1,1079.4 300.2,1028.1 301.4,1090.5 302.5,1043.9 303.8,1090.5 304.3,1221.1 305.1,1018.7 306.2,1068.2 307.5,1056.7 311.1,1056.7 311.9,1061.6 313.7,1055.1 314.0,1056.7 315.7,1056.7 316.5,1058.8 317.8,1047.7 319.0,1068.2 319.7,1070.0 320.8,1086.8 321.7,1020.6 322.7,1056.7 324.1,1056.7 324.9,1061.6 326.8,1056.7 328.1,1079.4 329.6,1056.7 330.5,1080.3 331.4,1088.7 332.4,1047.7 333.3,1060.7 335.2,1056.7 338.0,1056.7 354.9,1056.7 355.7,1055.1 356.5,1056.7 359.4,1056.7 360.4,1075.6 361.8,1053.2 362.4,1119.5 363.2,1053.2 364.1,1079.4 365.0,1053.2 365.9,1109.2 366.9,1056.7 374.3,1056.7 375.3,1060.7 377.1,1056.7 420.0,1056.7 421.5,1122.3 421.9,1048.6 423.8,1060.7 425.6,1036.5 426.6,1066.3 427.9,1033.7 429.4,1060.7 430.9,1064.4 431.8,1042.1 432.7,1022.5 433.6,1066.3 434.6,1041.1 435.3,1068.2 436.8,1056.7 440.5,1056.7 442.4,1045.8 443.3,1058.8 444.1,1056.7 446.1,1056.7 447.1,1061.6 448.0,1038.3 448.9,1060.7 450.2,1053.2 451.7,1015.9 452.7,1061.6 454.0,1056.7 457.3,1056.7 459.2,1075.6 461.1,1060.7 462.0,1033.7 462.9,1079.4 463.9,1049.5 465.7,1056.7 468.5,1056.7 470.4,1068.2 471.3,1052.3 473.2,1056.7 490.5,1056.7 490.9,1056.7 492.4,1077.5 492.5,1077.6 493.7,1049.5 494.7,1049.2 496.0,1058.9 496.8,1056.7 504.9,1056.7 505.7,1058.9 507.1,1056.7 549.9,1056.7 551.8,1061.6 553.2,1027.1 554.9,1092.0 556.8,996.7 558.2,1072.7 559.0,1141.7 560.1,1017.4 561.8,1078.2 562.9,1045.0 564.5,1072.7 565.6,1093.4 567.3,1051.9 569.2,1058.9 570.0,1056.7 571.2,1056.7 572.0,1053.3 572.8,1056.7 573.9,1056.7 574.7,1051.9 575.5,1056.7 577.5,1056.7 579.5,1056.7 580.3,1069.9 582.2,1029.9 583.8,1072.7 584.9,1028.5 586.3,807.6 587.7,1075.4 589.4,1053.3 591.3,1056.7 592.7,1082.3 593.5,1025.7 595.4,1067.1 596.8,1045.0 598.7,1056.7 601.5,1056.7 602.3,1036.8 603.7,1056.7 612.0,1056.7 615.3,1056.7 616.1,1064.4 617.5,1056.7 621.7,1056.7 622.5,1039.5 623.9,1071.3 625.8,1034.0 627.2,1056.7 636.0,1056.7 636.8,1060.2 637.6,1056.7 639.6,1056.7 661.7,1056.7 680.9,1056.7 682.6,1060.4 683.5,1035.4 684.3,1080.3 685.7,1047.5 686.9,1060.4 688.1,1038.0 689.5,1062.2 690.9,1046.6 691.8,1084.6 693.0,1108.8 693.8,979.3 695.0,1081.1 695.9,983.6 696.4,1093.2 697.3,1013.8 698.1,1060.4 698.9,1056.7 699.9,1056.7 700.7,1062.2 702.5,1056.7 704.2,1056.7 705.0,1055.3 705.8,1056.7 706.8,1056.7 707.6,1058.7 708.5,1123.4 709.4,1054.4 710.2,1056.7 712.9,1056.7 713.7,1054.4 714.5,1056.7 716.3,1056.7 718.0,1063.9 719.7,1056.7 721.5,1056.7 722.3,1060.4 723.2,1088.9 724.0,1034.6 724.9,1060.4 726.6,1049.2 728.3,1060.4 730.1,1055.3 730.9,1056.7 731.5,1056.7 732.3,1039.7 733.5,1056.7 737.8,1056.7 741.3,1056.7 742.1,1053.5 742.9,1056.7 744.7,1056.7 747.4,1056.7 748.2,1052.7 749.0,1060.4 749.8,1056.7 750.8,1056.7 751.6,1063.9 752.4,1056.7 753.4,1056.7 754.2,1046.6 755.4,1045.8 756.8,1060.4 758.0,1126.0 758.9,1056.7 764.6,1056.7 765.4,1057.9 767.2,1059.6 768.9,1056.7 810.3,1056.7 812.0,1063.0 813.4,1031.1 814.1,1085.5 815.5,1053.5 817.2,1062.2 818.1,1013.8 819.5,1125.2 820.7,1070.8 822.7,1013.8 823.8,1070.8 825.0,982.8 826.2,1120.0 827.6,1070.8 828.4,1062.2 830.2,1055.3 831.0,1056.7 831.9,1056.7 832.7,1054.4" fill="none" stroke="#00f" stroke-width="2.4" stroke-linejoin="round" stroke-linecap="round"/>
<rect x="136.30" y="745.10" width="696.70" height="519.40" fill="none" stroke="#000" stroke-width="2.3"/>
<line x1="136.30" y1="1264.50" x2="145.20" y2="1264.50" stroke="#000" stroke-width="2.3" stroke-linecap="butt"/>
<text transform="translate(124.70,1266.10) scale(1,1.015)" x="0" y="10.76" font-size="32.6" text-anchor="end" font-family="'Liberation Serif', 'Noto Serif CJK SC', serif">−600</text>
<line x1="136.30" y1="1195.25" x2="145.20" y2="1195.25" stroke="#000" stroke-width="2.3" stroke-linecap="butt"/>
<text transform="translate(124.70,1196.85) scale(1,1.015)" x="0" y="10.76" font-size="32.6" text-anchor="end" font-family="'Liberation Serif', 'Noto Serif CJK SC', serif">−400</text>
<line x1="136.30" y1="1125.99" x2="145.20" y2="1125.99" stroke="#000" stroke-width="2.3" stroke-linecap="butt"/>
<text transform="translate(124.70,1127.59) scale(1,1.015)" x="0" y="10.76" font-size="32.6" text-anchor="end" font-family="'Liberation Serif', 'Noto Serif CJK SC', serif">−200</text>
<line x1="136.30" y1="1056.74" x2="145.20" y2="1056.74" stroke="#000" stroke-width="2.3" stroke-linecap="butt"/>
<text transform="translate(124.70,1058.34) scale(1,1.015)" x="0" y="10.76" font-size="32.6" text-anchor="end" font-family="'Liberation Serif', 'Noto Serif CJK SC', serif">0</text>
<line x1="136.30" y1="987.49" x2="145.20" y2="987.49" stroke="#000" stroke-width="2.3" stroke-linecap="butt"/>
<text transform="translate(124.70,989.09) scale(1,1.015)" x="0" y="10.76" font-size="32.6" text-anchor="end" font-family="'Liberation Serif', 'Noto Serif CJK SC', serif">200</text>
<line x1="136.30" y1="918.23" x2="145.20" y2="918.23" stroke="#000" stroke-width="2.3" stroke-linecap="butt"/>
<text transform="translate(124.70,919.83) scale(1,1.015)" x="0" y="10.76" font-size="32.6" text-anchor="end" font-family="'Liberation Serif', 'Noto Serif CJK SC', serif">400</text>
<line x1="136.30" y1="848.98" x2="145.20" y2="848.98" stroke="#000" stroke-width="2.3" stroke-linecap="butt"/>
<text transform="translate(124.70,850.58) scale(1,1.015)" x="0" y="10.76" font-size="32.6" text-anchor="end" font-family="'Liberation Serif', 'Noto Serif CJK SC', serif">600</text>
<line x1="136.30" y1="779.73" x2="145.20" y2="779.73" stroke="#000" stroke-width="2.3" stroke-linecap="butt"/>
<text transform="translate(124.70,781.33) scale(1,1.015)" x="0" y="10.76" font-size="32.6" text-anchor="end" font-family="'Liberation Serif', 'Noto Serif CJK SC', serif">800</text>
<line x1="136.30" y1="1229.87" x2="140.60" y2="1229.87" stroke="#000" stroke-width="2.3" stroke-linecap="butt"/>
<line x1="136.30" y1="1160.62" x2="140.60" y2="1160.62" stroke="#000" stroke-width="2.3" stroke-linecap="butt"/>
<line x1="136.30" y1="1091.37" x2="140.60" y2="1091.37" stroke="#000" stroke-width="2.3" stroke-linecap="butt"/>
<line x1="136.30" y1="1022.11" x2="140.60" y2="1022.11" stroke="#000" stroke-width="2.3" stroke-linecap="butt"/>
<line x1="136.30" y1="952.86" x2="140.60" y2="952.86" stroke="#000" stroke-width="2.3" stroke-linecap="butt"/>
<line x1="136.30" y1="883.61" x2="140.60" y2="883.61" stroke="#000" stroke-width="2.3" stroke-linecap="butt"/>
<line x1="136.30" y1="814.35" x2="140.60" y2="814.35" stroke="#000" stroke-width="2.3" stroke-linecap="butt"/>
<line x1="135.80" y1="1264.50" x2="135.80" y2="1255.60" stroke="#000" stroke-width="2.3" stroke-linecap="butt"/>
<text transform="translate(135.80,1292.50) scale(1,1.015)" x="0" y="10.76" font-size="32.6" text-anchor="middle" font-family="'Liberation Serif', 'Noto Serif CJK SC', serif">0</text>
<line x1="309.98" y1="1264.50" x2="309.98" y2="1255.60" stroke="#000" stroke-width="2.3" stroke-linecap="butt"/>
<text transform="translate(309.98,1292.50) scale(1,1.015)" x="0" y="10.76" font-size="32.6" text-anchor="middle" font-family="'Liberation Serif', 'Noto Serif CJK SC', serif">2</text>
<line x1="484.15" y1="1264.50" x2="484.15" y2="1255.60" stroke="#000" stroke-width="2.3" stroke-linecap="butt"/>
<text transform="translate(484.15,1292.50) scale(1,1.015)" x="0" y="10.76" font-size="32.6" text-anchor="middle" font-family="'Liberation Serif', 'Noto Serif CJK SC', serif">4</text>
<line x1="658.33" y1="1264.50" x2="658.33" y2="1255.60" stroke="#000" stroke-width="2.3" stroke-linecap="butt"/>
<text transform="translate(658.33,1292.50) scale(1,1.015)" x="0" y="10.76" font-size="32.6" text-anchor="middle" font-family="'Liberation Serif', 'Noto Serif CJK SC', serif">6</text>
<line x1="832.50" y1="1264.50" x2="832.50" y2="1255.60" stroke="#000" stroke-width="2.3" stroke-linecap="butt"/>
<text transform="translate(832.50,1292.50) scale(1,1.015)" x="0" y="10.76" font-size="32.6" text-anchor="middle" font-family="'Liberation Serif', 'Noto Serif CJK SC', serif">8</text>
<line x1="222.89" y1="1264.50" x2="222.89" y2="1260.20" stroke="#000" stroke-width="2.3" stroke-linecap="butt"/>
<line x1="397.06" y1="1264.50" x2="397.06" y2="1260.20" stroke="#000" stroke-width="2.3" stroke-linecap="butt"/>
<line x1="571.24" y1="1264.50" x2="571.24" y2="1260.20" stroke="#000" stroke-width="2.3" stroke-linecap="butt"/>
<line x1="745.41" y1="1264.50" x2="745.41" y2="1260.20" stroke="#000" stroke-width="2.3" stroke-linecap="butt"/>
<text transform="translate(0,1344.20) scale(1,1.0)" x="352.20 368.53 384.86 401.19 417.52 433.85 450.18 466.51 499.17 515.50 548.16 580.82" y="0" font-size="32.00" text-anchor="middle" font-family="'Liberation Serif', 'Noto Serif CJK SC', serif">Responseties</text>
<text transform="translate(0,1341.70) scale(1,1.0)" x="566.94 594.86" y="0" font-size="32.00" text-anchor="middle" font-family="'Liberation Serif', 'Noto Serif CJK SC', serif">()</text>
<text transform="translate(531.83,1344.20) scale(0.66,1.0)" x="0" y="0" font-size="32.00" text-anchor="middle" font-family="'Liberation Serif', 'Noto Serif CJK SC', serif">m</text>
<text transform="rotate(-90) translate(0,69.50) scale(1,1.0)" x="-1180.92 -1164.77 -1148.62 -1132.47 -1116.33 -1100.17 -1084.02 -1067.88 -1051.72 -1035.58 -1019.42 -1003.27 -954.83 -938.67" y="0" font-size="32.30" text-anchor="middle" font-family="'Liberation Serif', 'Noto Serif CJK SC', serif">Acceleration/s</text>
<text transform="rotate(-90) translate(0,66.59) scale(1,1.0)" x="-983.89" y="0" font-size="32.30" text-anchor="middle" font-family="'Liberation Serif', 'Noto Serif CJK SC', serif">(</text>
<text transform="rotate(-90) translate(-970.97,69.50) scale(0.66,1.0)" x="0" y="0" font-size="32.30" text-anchor="middle" font-family="'Liberation Serif', 'Noto Serif CJK SC', serif">m</text>
<text transform="rotate(-90) translate(0,55.61) scale(1,1.0)" x="-925.11" y="0" font-size="22.93" text-anchor="middle" font-family="'Liberation Serif', 'Noto Serif CJK SC', serif">2</text>
<text transform="rotate(-90) translate(0,66.59) scale(1,1.0)" x="-914.13" y="0" font-size="32.30" text-anchor="middle" font-family="'Liberation Serif', 'Noto Serif CJK SC', serif">)</text>
<rect x="210.0" y="760.0" width="299.8" height="224.4" fill="#fff"/>
<polyline points="210.5,909.7 227.2,909.7 229.0,909.0 239.8,909.4 244.4,912.6 248.5,894.0 252.5,910.3 255.2,909.0 263.4,907.9 265.6,877.7 267.9,929.3 271.9,907.2 274.2,939.2 276.4,903.6 278.4,955.5 280.8,888.7 283.3,911.2 287.3,902.1 288.7,912.1 291.1,910.8 293.6,921.1 296.0,920.6 298.2,904.3 300.0,904.3 302.3,921.1 304.7,913.9 306.5,914.8 308.7,929.8 311.4,909.7 314.1,909.7 316.8,907.2 319.5,909.7 326.8,909.7 332.2,911.2 336.7,907.9 340.3,909.7 344.9,910.3 349.4,907.9 353.0,910.8 355.7,907.6 359.4,909.7 366.6,909.4 371.1,910.8 374.8,908.5 377.5,910.3 378.9,907.9 381.1,916.2 383.8,907.9 388.3,909.7 391.6,895.8 395.9,917.5 398.8,894.9 401.0,909.7 403.7,908.5 405.5,910.8 409.2,909.4 411.3,775.4 415.5,919.3 418.2,906.6 420.0,910.3 424.6,909.4 430.9,907.9 432.7,910.3 441.8,909.7 443.0,923.9 445.6,893.1 447.6,915.7 449.9,903.9 452.6,911.7 453.5,907.6 456.2,916.2 458.1,901.8 460.2,911.7 462.6,905.7 464.8,910.6 467.1,907.9 469.8,910.3 486.1,909.7 488.3,899.4 490.7,909.7 509.7,909.7" fill="none" stroke="#00f" stroke-width="2" stroke-linejoin="round" stroke-linecap="round"/>
<rect x="210.00" y="760.00" width="299.80" height="224.40" fill="none" stroke="#000" stroke-width="1.8"/>
<line x1="210.00" y1="778.61" x2="212.20" y2="778.61" stroke="#000" stroke-width="1.5" stroke-linecap="butt"/>
<line x1="210.00" y1="797.34" x2="214.50" y2="797.34" stroke="#000" stroke-width="1.5" stroke-linecap="butt"/>
<line x1="210.00" y1="816.06" x2="212.20" y2="816.06" stroke="#000" stroke-width="1.5" stroke-linecap="butt"/>
<line x1="210.00" y1="834.79" x2="214.50" y2="834.79" stroke="#000" stroke-width="1.5" stroke-linecap="butt"/>
<line x1="210.00" y1="853.51" x2="212.20" y2="853.51" stroke="#000" stroke-width="1.5" stroke-linecap="butt"/>
<line x1="210.00" y1="872.24" x2="214.50" y2="872.24" stroke="#000" stroke-width="1.5" stroke-linecap="butt"/>
<line x1="210.00" y1="890.96" x2="212.20" y2="890.96" stroke="#000" stroke-width="1.5" stroke-linecap="butt"/>
<line x1="210.00" y1="909.69" x2="214.50" y2="909.69" stroke="#000" stroke-width="1.5" stroke-linecap="butt"/>
<line x1="210.00" y1="928.41" x2="212.20" y2="928.41" stroke="#000" stroke-width="1.5" stroke-linecap="butt"/>
<line x1="210.00" y1="947.14" x2="214.50" y2="947.14" stroke="#000" stroke-width="1.5" stroke-linecap="butt"/>
<line x1="210.00" y1="965.86" x2="212.20" y2="965.86" stroke="#000" stroke-width="1.5" stroke-linecap="butt"/>
<line x1="231.69" y1="984.40" x2="231.69" y2="982.10" stroke="#000" stroke-width="1.5" stroke-linecap="butt"/>
<line x1="252.99" y1="984.40" x2="252.99" y2="979.90" stroke="#000" stroke-width="1.5" stroke-linecap="butt"/>
<line x1="274.28" y1="984.40" x2="274.28" y2="982.10" stroke="#000" stroke-width="1.5" stroke-linecap="butt"/>
<line x1="295.58" y1="984.40" x2="295.58" y2="979.90" stroke="#000" stroke-width="1.5" stroke-linecap="butt"/>
<line x1="316.88" y1="984.40" x2="316.88" y2="982.10" stroke="#000" stroke-width="1.5" stroke-linecap="butt"/>
<line x1="338.17" y1="984.40" x2="338.17" y2="979.90" stroke="#000" stroke-width="1.5" stroke-linecap="butt"/>
<line x1="359.47" y1="984.40" x2="359.47" y2="982.10" stroke="#000" stroke-width="1.5" stroke-linecap="butt"/>
<line x1="380.77" y1="984.40" x2="380.77" y2="979.90" stroke="#000" stroke-width="1.5" stroke-linecap="butt"/>
<line x1="402.06" y1="984.40" x2="402.06" y2="982.10" stroke="#000" stroke-width="1.5" stroke-linecap="butt"/>
<line x1="423.36" y1="984.40" x2="423.36" y2="979.90" stroke="#000" stroke-width="1.5" stroke-linecap="butt"/>
<line x1="444.66" y1="984.40" x2="444.66" y2="982.10" stroke="#000" stroke-width="1.5" stroke-linecap="butt"/>
<line x1="465.95" y1="984.40" x2="465.95" y2="979.90" stroke="#000" stroke-width="1.5" stroke-linecap="butt"/>
<line x1="487.25" y1="984.40" x2="487.25" y2="982.10" stroke="#000" stroke-width="1.5" stroke-linecap="butt"/>
<line x1="508.55" y1="984.40" x2="508.55" y2="979.90" stroke="#000" stroke-width="1.5" stroke-linecap="butt"/>
<line x1="541.60" y1="934.10" x2="519.50" y2="924.80" stroke="#000" stroke-width="1.5" stroke-linecap="butt"/>
<polygon points="511.8,921.6 521.5,919.0 518.6,928.0" fill="#000" stroke="#000" stroke-width="1" stroke-linejoin="round"/>
<text x="501.40" y="1430.00" font-size="41.5" text-anchor="middle" font-family="'Liberation Serif', 'Noto Serif CJK SC', serif" stroke="#000" stroke-width="0.45">(c)</text>
<rect x="1070.9" y="954.4" width="28.2" height="297.4" fill="#c0c0c0"/>
<polyline points="1054.4,1006.9 1074.3,1006.9 1075.7,1006.9 1076.5,1004.1 1077.3,1006.9 1077.9,1006.9 1078.7,1028.4 1079.8,989.7 1081.4,1010.7 1083.1,1042.7 1084.7,963.2 1086.0,1012.9 1087.1,1244.9 1088.0,956.6 1089.3,1024.0 1090.9,1006.9 1092.0,961.0 1093.1,1010.7 1094.2,1005.2 1095.0,1006.9 1096.4,1006.9 1100.8,1006.9 1103.3,1006.9 1104.1,1016.2 1105.2,997.4 1107.0,1010.7 1108.6,1006.9 1109.2,1039.4 1110.1,982.0 1111.4,1015.1 1113.0,1006.9 1138.4,1006.9 1139.8,1006.9 1140.6,1005.2 1141.4,1006.9 1143.1,1006.9 1143.9,1010.7 1145.4,1001.9 1147.2,1010.7 1148.0,1006.9 1148.6,1006.9 1149.4,1004.1 1150.2,1006.9 1150.8,1006.9 1151.6,995.2 1153.4,1018.4 1154.9,1001.9 1155.7,1006.9 1157.2,1006.9 1182.6,1006.9 1208.7,1006.9 1209.6,1006.9 1210.9,1003.2 1212.3,1017.6 1213.8,998.7 1215.6,943.9 1216.8,1030.1 1217.7,922.4 1218.6,1008.6 1219.5,999.6 1220.4,1018.5 1222.2,999.6 1223.5,1006.9 1224.9,1005.0 1225.8,835.3 1226.3,1019.4 1227.6,1005.0 1229.4,1006.9 1235.8,1006.9 1236.6,1005.0 1238.4,1002.3 1240.2,1006.9 1242.0,996.9 1243.8,1009.5 1244.6,1006.9 1246.5,1006.9 1261.7,1006.9 1271.6,1006.9 1276.2,1006.9 1277.0,1003.2 1278.8,1010.4 1280.6,997.8 1282.4,1014.0 1283.3,961.0 1285.1,1017.6 1286.3,992.4 1287.4,1061.6 1287.8,961.0 1288.7,1014.0 1289.9,1006.9 1341.6,1006.9 1343.8,989.7 1345.2,1006.9 1347.0,1010.4 1347.9,1064.3 1348.8,994.2 1350.6,1001.4 1352.4,1006.9 1353.9,1021.1 1355.6,991.5 1356.9,1040.0 1357.8,904.4 1358.7,1024.7 1359.6,996.9 1361.0,1006.9 1361.1,1005.6 1361.9,1006.9 1363.4,1006.9 1369.4,1006.9 1370.2,1007.9 1371.3,1004.5 1372.5,1009.0 1373.3,1006.9 1373.9,1006.9 1374.7,1004.0 1376.4,1009.0 1378.1,1006.9 1403.0,1006.9 1404.1,1004.5 1405.3,1008.5 1406.1,1006.9 1407.5,1006.9 1412.4,1006.9 1413.2,1007.9 1414.0,1006.9 1414.7,1006.9 1415.5,989.8 1416.3,1017.5 1417.2,1003.4 1418.3,1007.9 1419.4,1006.9 1473.2,1006.9 1474.6,1006.9 1475.4,1007.9 1476.2,983.0 1477.9,1009.6 1479.4,1001.1 1480.9,975.1 1482.0,1015.3 1483.4,1006.9 1485.1,1003.4 1486.2,1019.2 1487.0,968.3 1487.6,1048.7 1488.5,1003.4 1489.4,956.4 1490.2,1032.2 1491.1,992.1 1491.9,1007.9 1493.0,1006.9 1503.2,1006.9 1504.9,1010.2 1505.7,1006.9 1506.3,1006.9 1507.1,987.5 1508.3,1015.3 1510.0,1007.9 1511.1,1038.5 1511.4,983.0 1512.2,1012.4 1513.9,1005.6 1515.6,1006.9 1527.5,1006.9 1536.6,1006.9 1545.6,1006.9 1547.1,1006.9 1547.9,1005.6 1549.0,960.4 1549.6,1043.6 1551.3,989.8 1552.4,1007.9 1553.2,1006.9 1606.5,1006.9 1608.3,1005.1 1609.6,989.1 1610.4,1012.5 1612.0,1008.8 1613.2,1030.9 1613.9,987.3 1614.8,1026.0 1615.7,991.6 1616.9,1032.1 1617.5,967.0 1618.2,1033.3 1618.8,986.7 1619.8,974.4 1620.6,1030.9 1621.5,980.5 1622.5,1029.6 1623.1,996.5 1623.7,1013.7 1624.9,1006.9 1627.4,1006.9 1633.5,1006.9 1634.5,1002.6 1635.1,1010.6 1636.0,1006.9 1638.8,1006.9 1639.6,1013.7 1640.0,1002.0 1640.9,1006.9 1643.3,1006.9 1647.4,1006.9 1648.2,1005.1 1648.9,1008.8 1650.1,1006.9 1659.3,1006.9 1668.3,1006.9 1669.1,1004.5 1669.7,1008.8 1671.0,1006.9 1679.6,1006.9 1684.3,1006.9 1685.1,998.3 1685.7,1021.1 1686.9,1003.9 1688.8,1006.9 1739.1,1006.9 1741.0,991.6 1742.2,1020.4 1744.0,1003.9 1745.9,1013.7 1747.1,1003.9 1748.9,1008.8 1749.7,1006.9 1750.6,1006.9 1751.4,989.1 1752.6,1054.2 1753.2,966.4 1754.5,1013.7 1756.3,1006.9 1760.2,1006.9" fill="none" stroke="#00f" stroke-width="2.6" stroke-linejoin="round" stroke-linecap="round"/>
<rect x="1054.10" y="775.00" width="706.80" height="520.20" fill="none" stroke="#000" stroke-width="2.3"/>
<line x1="1054.10" y1="1295.20" x2="1063.80" y2="1295.20" stroke="#000" stroke-width="2.3" stroke-linecap="butt"/>
<text transform="translate(1042.90,1297.15) scale(1,1.0)" x="0" y="10.43" font-size="31.6" text-anchor="end" font-family="'Liberation Serif', 'Noto Serif CJK SC', serif">−25000</text>
<line x1="1054.10" y1="1237.40" x2="1063.80" y2="1237.40" stroke="#000" stroke-width="2.3" stroke-linecap="butt"/>
<text transform="translate(1042.90,1239.35) scale(1,1.0)" x="0" y="10.43" font-size="31.6" text-anchor="end" font-family="'Liberation Serif', 'Noto Serif CJK SC', serif">−20000</text>
<line x1="1054.10" y1="1179.60" x2="1063.80" y2="1179.60" stroke="#000" stroke-width="2.3" stroke-linecap="butt"/>
<text transform="translate(1042.90,1181.55) scale(1,1.0)" x="0" y="10.43" font-size="31.6" text-anchor="end" font-family="'Liberation Serif', 'Noto Serif CJK SC', serif">−15000</text>
<line x1="1054.10" y1="1121.80" x2="1063.80" y2="1121.80" stroke="#000" stroke-width="2.3" stroke-linecap="butt"/>
<text transform="translate(1042.90,1123.75) scale(1,1.0)" x="0" y="10.43" font-size="31.6" text-anchor="end" font-family="'Liberation Serif', 'Noto Serif CJK SC', serif">−10000</text>
<line x1="1054.10" y1="1064.00" x2="1063.80" y2="1064.00" stroke="#000" stroke-width="2.3" stroke-linecap="butt"/>
<text transform="translate(1042.90,1065.95) scale(1,1.0)" x="0" y="10.43" font-size="31.6" text-anchor="end" font-family="'Liberation Serif', 'Noto Serif CJK SC', serif">−5000</text>
<line x1="1054.10" y1="1006.20" x2="1063.80" y2="1006.20" stroke="#000" stroke-width="2.3" stroke-linecap="butt"/>
<text transform="translate(1042.90,1008.15) scale(1,1.0)" x="0" y="10.43" font-size="31.6" text-anchor="end" font-family="'Liberation Serif', 'Noto Serif CJK SC', serif">0</text>
<line x1="1054.10" y1="948.40" x2="1063.80" y2="948.40" stroke="#000" stroke-width="2.3" stroke-linecap="butt"/>
<text transform="translate(1042.90,950.35) scale(1,1.0)" x="0" y="10.43" font-size="31.6" text-anchor="end" font-family="'Liberation Serif', 'Noto Serif CJK SC', serif">5000</text>
<line x1="1054.10" y1="890.60" x2="1063.80" y2="890.60" stroke="#000" stroke-width="2.3" stroke-linecap="butt"/>
<text transform="translate(1042.90,892.55) scale(1,1.0)" x="0" y="10.43" font-size="31.6" text-anchor="end" font-family="'Liberation Serif', 'Noto Serif CJK SC', serif">10000</text>
<line x1="1054.10" y1="832.80" x2="1063.80" y2="832.80" stroke="#000" stroke-width="2.3" stroke-linecap="butt"/>
<text transform="translate(1042.90,834.75) scale(1,1.0)" x="0" y="10.43" font-size="31.6" text-anchor="end" font-family="'Liberation Serif', 'Noto Serif CJK SC', serif">15000</text>
<line x1="1054.10" y1="775.00" x2="1063.80" y2="775.00" stroke="#000" stroke-width="2.3" stroke-linecap="butt"/>
<text transform="translate(1042.90,776.95) scale(1,1.0)" x="0" y="10.43" font-size="31.6" text-anchor="end" font-family="'Liberation Serif', 'Noto Serif CJK SC', serif">20000</text>
<line x1="1054.10" y1="1266.30" x2="1058.90" y2="1266.30" stroke="#000" stroke-width="2.3" stroke-linecap="butt"/>
<line x1="1054.10" y1="1208.50" x2="1058.90" y2="1208.50" stroke="#000" stroke-width="2.3" stroke-linecap="butt"/>
<line x1="1054.10" y1="1150.70" x2="1058.90" y2="1150.70" stroke="#000" stroke-width="2.3" stroke-linecap="butt"/>
<line x1="1054.10" y1="1092.90" x2="1058.90" y2="1092.90" stroke="#000" stroke-width="2.3" stroke-linecap="butt"/>
<line x1="1054.10" y1="1035.10" x2="1058.90" y2="1035.10" stroke="#000" stroke-width="2.3" stroke-linecap="butt"/>
<line x1="1054.10" y1="977.30" x2="1058.90" y2="977.30" stroke="#000" stroke-width="2.3" stroke-linecap="butt"/>
<line x1="1054.10" y1="919.50" x2="1058.90" y2="919.50" stroke="#000" stroke-width="2.3" stroke-linecap="butt"/>
<line x1="1054.10" y1="861.70" x2="1058.90" y2="861.70" stroke="#000" stroke-width="2.3" stroke-linecap="butt"/>
<line x1="1054.10" y1="803.90" x2="1058.90" y2="803.90" stroke="#000" stroke-width="2.3" stroke-linecap="butt"/>
<line x1="1054.10" y1="1295.20" x2="1054.10" y2="1285.50" stroke="#000" stroke-width="2.3" stroke-linecap="butt"/>
<text transform="translate(1054.10,1323.20) scale(1,1.0)" x="0" y="10.43" font-size="31.6" text-anchor="middle" font-family="'Liberation Serif', 'Noto Serif CJK SC', serif">0</text>
<line x1="1230.62" y1="1295.20" x2="1230.62" y2="1285.50" stroke="#000" stroke-width="2.3" stroke-linecap="butt"/>
<text transform="translate(1230.62,1323.20) scale(1,1.0)" x="0" y="10.43" font-size="31.6" text-anchor="middle" font-family="'Liberation Serif', 'Noto Serif CJK SC', serif">2</text>
<line x1="1407.15" y1="1295.20" x2="1407.15" y2="1285.50" stroke="#000" stroke-width="2.3" stroke-linecap="butt"/>
<text transform="translate(1407.15,1323.20) scale(1,1.0)" x="0" y="10.43" font-size="31.6" text-anchor="middle" font-family="'Liberation Serif', 'Noto Serif CJK SC', serif">4</text>
<line x1="1583.67" y1="1295.20" x2="1583.67" y2="1285.50" stroke="#000" stroke-width="2.3" stroke-linecap="butt"/>
<text transform="translate(1583.67,1323.20) scale(1,1.0)" x="0" y="10.43" font-size="31.6" text-anchor="middle" font-family="'Liberation Serif', 'Noto Serif CJK SC', serif">6</text>
<line x1="1760.20" y1="1295.20" x2="1760.20" y2="1285.50" stroke="#000" stroke-width="2.3" stroke-linecap="butt"/>
<text transform="translate(1760.20,1323.20) scale(1,1.0)" x="0" y="10.43" font-size="31.6" text-anchor="middle" font-family="'Liberation Serif', 'Noto Serif CJK SC', serif">8</text>
<line x1="1142.36" y1="1295.20" x2="1142.36" y2="1290.40" stroke="#000" stroke-width="2.3" stroke-linecap="butt"/>
<line x1="1318.89" y1="1295.20" x2="1318.89" y2="1290.40" stroke="#000" stroke-width="2.3" stroke-linecap="butt"/>
<line x1="1495.41" y1="1295.20" x2="1495.41" y2="1290.40" stroke="#000" stroke-width="2.3" stroke-linecap="butt"/>
<line x1="1671.94" y1="1295.20" x2="1671.94" y2="1290.40" stroke="#000" stroke-width="2.3" stroke-linecap="butt"/>
<text transform="translate(0,1374.10) scale(1,1.0)" x="1278.80 1294.60 1310.40 1326.20 1342.00 1357.80 1373.60 1389.40 1421.00 1436.80 1468.40 1500.00" y="0" font-size="31.40" text-anchor="middle" font-family="'Liberation Serif', 'Noto Serif CJK SC', serif">Responseties</text>
<text transform="translate(0,1371.60) scale(1,1.0)" x="1486.57 1513.59" y="0" font-size="31.40" text-anchor="middle" font-family="'Liberation Serif', 'Noto Serif CJK SC', serif">()</text>
<text transform="translate(1452.60,1374.10) scale(0.66,1.0)" x="0" y="0" font-size="31.40" text-anchor="middle" font-family="'Liberation Serif', 'Noto Serif CJK SC', serif">m</text>
<text transform="rotate(-90) translate(0,941.50) scale(1,1.0)" x="-1180.90 -1164.90 -1148.90 -1132.90 -1116.90 -1100.90 -1084.90 -1068.90 -1052.90 -1036.90 -1020.90 -1004.90 -956.90 -940.90" y="0" font-size="32.00" text-anchor="middle" font-family="'Liberation Serif', 'Noto Serif CJK SC', serif">Acceleration/s</text>
<text transform="rotate(-90) translate(0,938.62) scale(1,1.0)" x="-985.70" y="0" font-size="32.00" text-anchor="middle" font-family="'Liberation Serif', 'Noto Serif CJK SC', serif">(</text>
<text transform="rotate(-90) translate(-972.90,941.50) scale(0.66,1.0)" x="0" y="0" font-size="32.00" text-anchor="middle" font-family="'Liberation Serif', 'Noto Serif CJK SC', serif">m</text>
<text transform="rotate(-90) translate(0,927.74) scale(1,1.0)" x="-927.46" y="0" font-size="22.72" text-anchor="middle" font-family="'Liberation Serif', 'Noto Serif CJK SC', serif">2</text>
<text transform="rotate(-90) translate(0,938.62) scale(1,1.0)" x="-916.58" y="0" font-size="32.00" text-anchor="middle" font-family="'Liberation Serif', 'Noto Serif CJK SC', serif">)</text>
<rect x="1149.0" y="1069.0" width="289.6" height="212.0" fill="#fff"/>
<polyline points="1149.5,1122.1 1191.8,1122.1 1196.1,1121.6 1201.3,1123.4 1206.5,1120.9 1210.8,1123.0 1216.0,1121.6 1221.1,1122.1 1225.4,1124.2 1230.6,1135.1 1235.8,1126.5 1240.5,1111.8 1245.3,1125.6 1250.5,1123.9 1259.5,1120.8 1264.3,1122.1 1273.8,1122.1 1279.0,1144.2 1283.6,1119.6 1286.7,1111.8 1293.3,1095.9 1297.9,1129.9 1303.1,1124.2 1307.8,1119.9 1312.6,1121.3 1317.8,1134.2 1322.5,1267.5 1327.3,1091.4 1332.0,1134.2 1336.8,1114.9 1342.0,1125.6 1346.6,1120.8 1351.5,1123.4 1356.1,1121.6 1361.0,1121.6 1365.8,1115.6 1370.5,1093.8 1375.1,1096.3 1379.9,1116.1 1385.1,1125.3 1394.6,1121.6 1398.9,1122.5 1417.9,1122.5 1428.3,1120.8 1433.5,1122.5 1438.6,1122.1" fill="none" stroke="#00f" stroke-width="2" stroke-linejoin="round" stroke-linecap="round"/>
<rect x="1149.00" y="1069.00" width="289.60" height="212.00" fill="none" stroke="#000" stroke-width="1.8"/>
<line x1="1149.00" y1="1086.76" x2="1153.30" y2="1086.76" stroke="#000" stroke-width="1.5" stroke-linecap="butt"/>
<line x1="1149.00" y1="1104.45" x2="1151.00" y2="1104.45" stroke="#000" stroke-width="1.5" stroke-linecap="butt"/>
<line x1="1149.00" y1="1122.14" x2="1153.30" y2="1122.14" stroke="#000" stroke-width="1.5" stroke-linecap="butt"/>
<line x1="1149.00" y1="1139.84" x2="1151.00" y2="1139.84" stroke="#000" stroke-width="1.5" stroke-linecap="butt"/>
<line x1="1149.00" y1="1157.53" x2="1153.30" y2="1157.53" stroke="#000" stroke-width="1.5" stroke-linecap="butt"/>
<line x1="1149.00" y1="1175.23" x2="1151.00" y2="1175.23" stroke="#000" stroke-width="1.5" stroke-linecap="butt"/>
<line x1="1149.00" y1="1192.92" x2="1153.30" y2="1192.92" stroke="#000" stroke-width="1.5" stroke-linecap="butt"/>
<line x1="1149.00" y1="1210.61" x2="1151.00" y2="1210.61" stroke="#000" stroke-width="1.5" stroke-linecap="butt"/>
<line x1="1149.00" y1="1228.31" x2="1153.30" y2="1228.31" stroke="#000" stroke-width="1.5" stroke-linecap="butt"/>
<line x1="1149.00" y1="1246.00" x2="1151.00" y2="1246.00" stroke="#000" stroke-width="1.5" stroke-linecap="butt"/>
<line x1="1149.00" y1="1263.69" x2="1153.30" y2="1263.69" stroke="#000" stroke-width="1.5" stroke-linecap="butt"/>
<line x1="1172.80" y1="1281.00" x2="1172.80" y2="1278.80" stroke="#000" stroke-width="1.5" stroke-linecap="butt"/>
<line x1="1196.93" y1="1281.00" x2="1196.93" y2="1276.70" stroke="#000" stroke-width="1.5" stroke-linecap="butt"/>
<line x1="1221.06" y1="1281.00" x2="1221.06" y2="1278.80" stroke="#000" stroke-width="1.5" stroke-linecap="butt"/>
<line x1="1245.20" y1="1281.00" x2="1245.20" y2="1276.70" stroke="#000" stroke-width="1.5" stroke-linecap="butt"/>
<line x1="1269.33" y1="1281.00" x2="1269.33" y2="1278.80" stroke="#000" stroke-width="1.5" stroke-linecap="butt"/>
<line x1="1293.46" y1="1281.00" x2="1293.46" y2="1276.70" stroke="#000" stroke-width="1.5" stroke-linecap="butt"/>
<line x1="1317.59" y1="1281.00" x2="1317.59" y2="1278.80" stroke="#000" stroke-width="1.5" stroke-linecap="butt"/>
<line x1="1341.73" y1="1281.00" x2="1341.73" y2="1276.70" stroke="#000" stroke-width="1.5" stroke-linecap="butt"/>
<line x1="1365.86" y1="1281.00" x2="1365.86" y2="1278.80" stroke="#000" stroke-width="1.5" stroke-linecap="butt"/>
<line x1="1389.99" y1="1281.00" x2="1389.99" y2="1276.70" stroke="#000" stroke-width="1.5" stroke-linecap="butt"/>
<line x1="1414.12" y1="1281.00" x2="1414.12" y2="1278.80" stroke="#000" stroke-width="1.5" stroke-linecap="butt"/>
<line x1="1098.20" y1="1095.80" x2="1134.50" y2="1104.20" stroke="#000" stroke-width="1.5" stroke-linecap="butt"/>
<polygon points="1142.8,1106.2 1133.0,1100.0 1131.5,1107.8" fill="#000" stroke="#000" stroke-width="1" stroke-linejoin="round"/>
<text x="1409.40" y="1439.00" font-size="41.5" text-anchor="middle" font-family="'Liberation Serif', 'Noto Serif CJK SC', serif" stroke="#000" stroke-width="0.45">(d)</text>
</svg>
</body></html>
